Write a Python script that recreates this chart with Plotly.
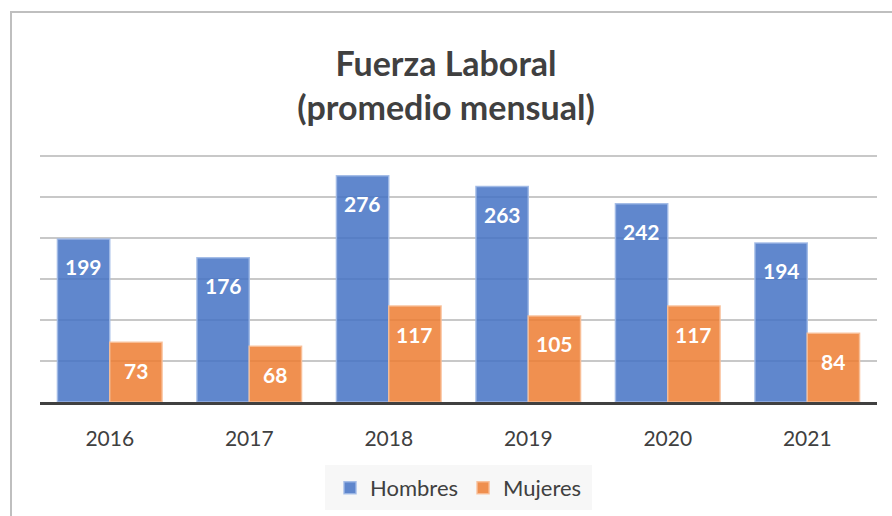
import plotly.graph_objects as go

years = ["2016", "2017", "2018", "2019", "2020", "2021"]
hombres = [199, 176, 276, 263, 242, 194]
mujeres = [73, 68, 117, 105, 117, 84]

FONT = "Lato"
W, H = 892, 516
L, R, T, B = 40, 15, 152, 114
plot_w = W - L - R
plot_h = H - T - B
cat_w = plot_w / len(years)
bargap = 0.25
bar_w = cat_w * (1 - bargap) / 2

fig = go.Figure()
fig.add_trace(go.Bar(
    x=years, y=hombres, name="Hombres",
    marker=dict(color="rgba(68,114,196,0.85)",
                line=dict(color="rgba(160,185,230,0.9)", width=1.5)),
))
fig.add_trace(go.Bar(
    x=years, y=mujeres, name="Mujeres",
    marker=dict(color="rgba(237,125,49,0.85)",
                line=dict(color="rgba(248,190,150,0.9)", width=1.5)),
))

annotations = []
for vals, sign in ((hombres, -1), (mujeres, 1)):
    for i, v in enumerate(vals):
        annotations.append(dict(
            x=i, y=v, xref="x", yref="y", text="<b>%d</b>" % v,
            showarrow=False, xshift=sign * bar_w / 2, yshift=-28,
            font=dict(family=FONT, size=21, color="white"),
        ))

fig.update_layout(
    width=W, height=H,
    margin=dict(l=L, r=R, t=T, b=B, autoexpand=False),
    paper_bgcolor="white", plot_bgcolor="white",
    barmode="group", bargap=bargap, bargroupgap=0,
    title=dict(text="<b>Fuerza Laboral<br>(promedio mensual)</b>",
               x=0.5, xanchor="center", y=1 - 76 / H, yanchor="middle",
               font=dict(family=FONT, size=34, color="#404040")),
    xaxis=dict(type="category", range=[-0.5, len(years) - 0.5],
               showline=True, linecolor="#404040", linewidth=3,
               tickfont=dict(family=FONT, size=21, color="#404040"),
               ticks="outside", ticklen=16, tickcolor="rgba(0,0,0,0)",
               showgrid=False),
    yaxis=dict(range=[0, 305], tickvals=[50, 100, 150, 200, 250, 300],
               showticklabels=False,
               showgrid=True, gridcolor="#C8C8C8", gridwidth=1.5,
               zeroline=False, ticks=""),
    legend=dict(orientation="h", x=0.5, xanchor="center",
                y=-(488 - 402) / plot_h, yanchor="middle",
                bgcolor="rgba(0,0,0,0)",
                font=dict(family=FONT, size=22, color="#404040")),
    annotations=annotations,
    shapes=[
        dict(type="rect", xref="paper", yref="paper",
             x0=(325 - L) / plot_w, x1=(592 - L) / plot_w,
             y0=-(510 - 402) / plot_h, y1=-(465 - 402) / plot_h,
             fillcolor="#F7F7F7", line=dict(width=0), layer="below"),
        dict(type="rect", xref="paper", yref="paper",
             x0=(11 - L) / plot_w, x1=1.2,
             y0=-1, y1=(402 - 12) / plot_h,
             fillcolor="rgba(0,0,0,0)", line=dict(color="#BFBFBF", width=2)),
    ],
)

fig.write_html("out.html", config={"displayModeBar": False},
               post_script="document.body.style.margin='0';")
